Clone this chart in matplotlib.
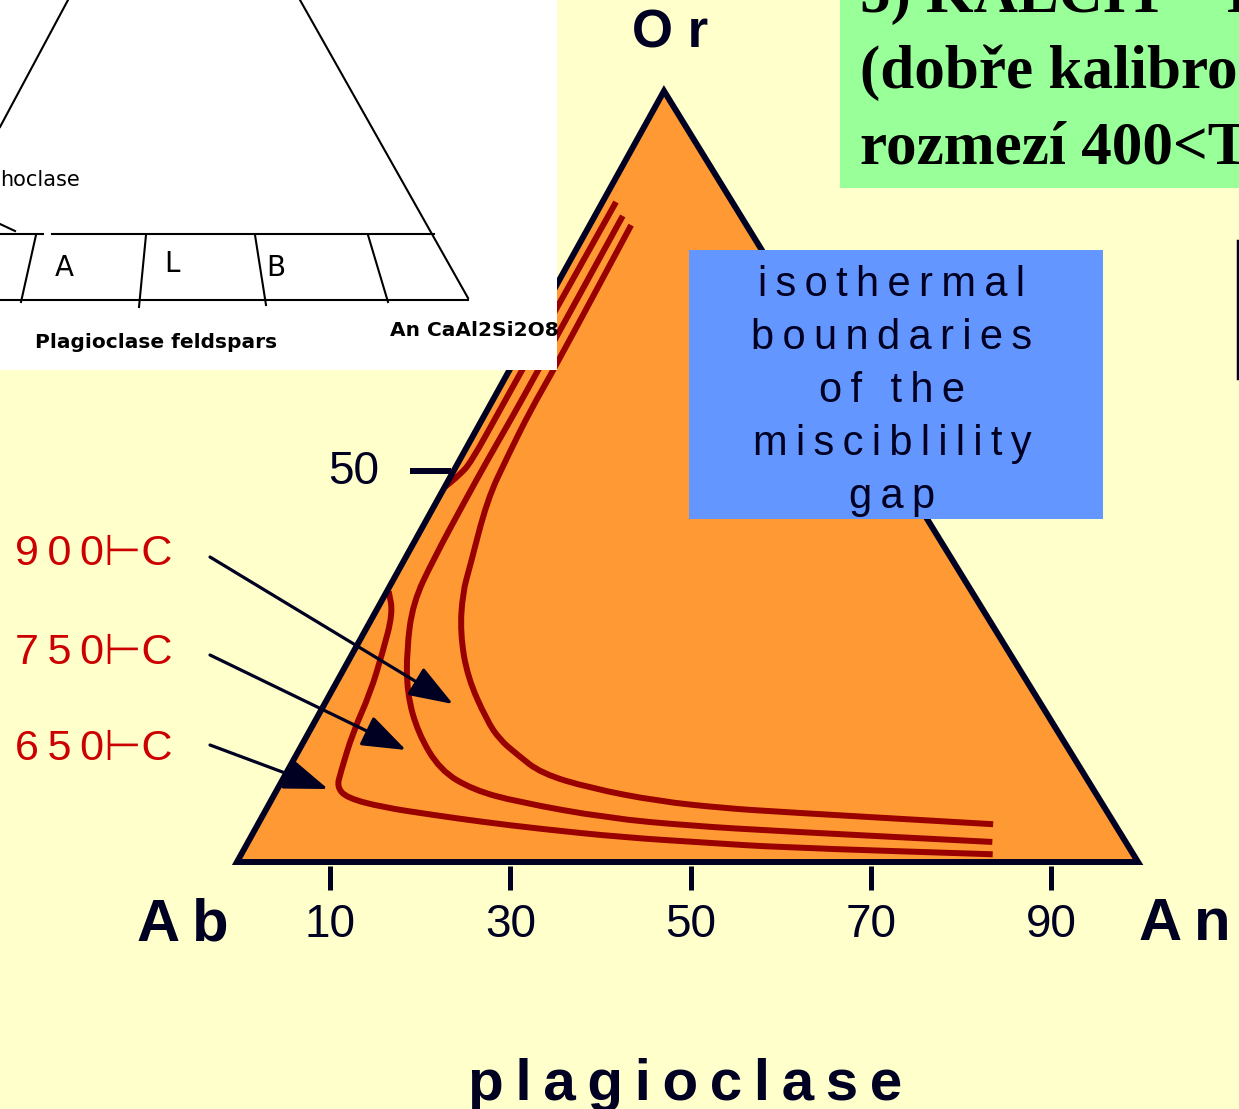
import numpy as np
import matplotlib.pyplot as plt
from matplotlib.patches import Polygon, Rectangle, PathPatch
from matplotlib.path import Path

# pixel corners of the ternary diagram: Ab (left), An (right), Or (top)
AB = np.array([237.0, 862.0])
AN = np.array([1138.0, 862.0])
OR = np.array([664.0, 91.0])

NAVY = '#000022'
RED = '#990000'
SANS = ['Liberation Sans', 'DejaVu Sans']

# base ticks (mol % An) and the single Or tick
base_ticks = [10, 30, 50, 70, 90]
or_tick = 50

# isotherms as (An %, Or %)
an_650_top = [1.5, 1.4, 1.4, 1.4, 0.9, 0.0]
or_650_top = [85.6, 63.9, 58.7, 51.8, 50.2, 48.6]
an_650 = [0.2, 2.0, 3.3, 4.4, 4.9, 6.0, 6.5, 8.3, 12.8, 18.9, 24.8, 31.6, 41.3, 51.0, 59.3, 83.4]
or_650 = [35.1, 32.3, 27.1, 21.9, 16.8, 11.6, 9.7, 8.3, 7.1, 6.1, 5.2, 4.3, 3.2, 2.5, 1.9, 1.0]
an_750 = [3.1, 3.2, 3.2, 3.1, 3.1, 3.2, 3.6, 5.8, 8.5, 12.1, 16.9, 21.8, 27.4, 38.4, 48.1, 58.4, 82.6]
or_750 = [83.8, 63.9, 57.8, 52.2, 47.0, 39.2, 33.6, 27.5, 21.9, 16.8, 11.9, 9.35, 7.8, 5.7, 4.7, 4.0, 2.6]
an_900 = [4.6, 4.9, 4.8, 5.1, 5.5, 7.7, 8.5, 10.7, 14.2, 19.0, 21.6, 24.4, 28.3, 34.6, 42.9, 50.6, 57.2, 81.6]
or_900 = [82.6, 63.9, 58.7, 52.6, 47.0, 38.3, 34.9, 29.7, 24.0, 18.4, 15.9, 14.0, 11.5, 9.6, 7.9, 7.0, 6.5, 4.9]

temp_labels = ['900', '750', '650']
box_lines = ['isothermal', 'boundaries', 'of the', 'misciblility', 'gap']
green_lines = ['5) KALCIT \u2013 D', '(dob\u0159e kalibro', 'rozmez\u00ed 400<T']


def tern(an, orr):
    an = np.asarray(an, dtype=float) / 100.0
    orr = np.asarray(orr, dtype=float) / 100.0
    x = AB[0] + an * (AN[0] - AB[0]) + orr * (OR[0] - AB[0])
    y = AB[1] + an * (AN[1] - AB[1]) + orr * (OR[1] - AB[1])
    return x, y


def smooth_path(x, y):
    # quadratic b-spline through the read points (points act as control points)
    p = np.column_stack([x, y])
    mids = (p[:-1] + p[1:]) / 2
    verts = [p[0], mids[0]]
    codes = [Path.MOVETO, Path.LINETO]
    for i in range(1, len(p) - 1):
        verts += [p[i], mids[i]]
        codes += [Path.CURVE3, Path.CURVE3]
    verts.append(p[-1])
    codes.append(Path.LINETO)
    return Path(verts, codes)


def spaced(s):
    return '\u2009'.join(s)


fig = plt.figure(figsize=(12.39, 11.09), dpi=100)
fig.patch.set_facecolor('#FFFFCC')
ax = fig.add_axes([0, 0, 1, 1])
ax.set_xlim(0, 1239)
ax.set_ylim(1109, 0)
ax.axis('off')

# triangle
ax.add_patch(Polygon([AB, AN, OR], closed=True, fc='#FF9933', ec='none', zorder=1))
ax.add_patch(Polygon([AB, AN, OR], closed=True, fill=False, ec=NAVY, lw=4.3,
                     joinstyle='miter', zorder=3))

# isotherms
for a, o in [(an_650_top, or_650_top), (an_650, or_650), (an_750, or_750), (an_900, or_900)]:
    x, y = tern(a, o)
    ax.add_patch(PathPatch(smooth_path(x, y), fill=False, ec=RED, lw=4.3,
                           joinstyle='round', capstyle='butt', zorder=2))

# base ticks
for t in base_ticks:
    x, y = tern(t, 0)
    ax.plot([x + 3, x + 3], [y + 4, y + 28], color=NAVY, lw=3.6, solid_capstyle='butt', zorder=3)
    ax.text(x + 3, 925, str(t), fontsize=33, family=SANS, color=NAVY, ha='center', va='center')

x, y = tern(0, or_tick)
ax.plot([x - 41, x], [y - 6, y - 6], color=NAVY, lw=4.3, solid_capstyle='butt', zorder=3)
ax.text(x - 97, y - 5, str(or_tick), fontsize=33, family=SANS, color=NAVY, ha='center', va='center')

# corner labels
ax.text(183, 925, spaced('Ab'), fontsize=43, fontweight='bold', family=SANS, color=NAVY,
        ha='center', va='center')
ax.text(1185, 925, spaced('An'), fontsize=43, fontweight='bold', family=SANS, color=NAVY,
        ha='center', va='center')
ax.text(670, 33, 'O r', fontsize=38, fontweight='bold', family=SANS, color=NAVY,
        ha='center', va='center')
ax.text(685, 1100, spaced('plagioclase'), fontsize=42, fontweight='bold', family=SANS,
        color=NAVY, ha='center', va='baseline')

# temperature labels with arrows
label_y = [554, 653, 749]
arrow_tips = [(453, 704), (406, 750), (328, 789)]
arrow_tails = [(210, 557), (210, 655), (210, 745)]
for t, ly, tail, tip in zip(temp_labels, label_y, arrow_tails, arrow_tips):
    ax.text(15, ly, spaced(t) + '\u22a2C', fontsize=31, family=SANS, color='#CC0000',
            ha='left', va='center')
    ax.annotate('', xy=tip, xytext=tail,
                arrowprops=dict(arrowstyle='-|>,head_length=1.05,head_width=0.38',
                                mutation_scale=26, color=NAVY, lw=2.3,
                                shrinkA=0, shrinkB=0), zorder=4)

# blue note box
ax.add_patch(Rectangle((689, 250), 414, 269, fc='#6496FF', ec='none', zorder=5))
for i, line in enumerate(box_lines):
    ax.text(892, 296 + 53 * i, spaced(line), fontsize=30, family=SANS, color=NAVY,
            ha='center', va='baseline', zorder=6)

# green heading box (cut by the slide edge)
ax.add_patch(Rectangle((840, 0), 420, 188, fc='#99FF99', ec='none', zorder=5))
for i, line in enumerate(green_lines):
    ax.text(860, 12 + 76 * i, line, fontsize=44, fontweight='bold', family='Liberation Serif',
            color='black', ha='left', va='baseline', zorder=6)

ax.plot([1238, 1238], [241, 378], color=NAVY, lw=2.5, zorder=6)

# pasted inset of the feldspar triangle
inset = Rectangle((0, 0), 557, 370, fc='white', ec='none', zorder=10)
ax.add_patch(inset)
k = dict(color='black', lw=1.5, zorder=11)
ax.plot([68, 0], [0, 127], **k)
ax.plot([300, 468], [0, 298], **k)
ax.plot([0, 43], [234, 234], **k)
ax.plot([52, 434], [234, 234], **k)
ax.plot([0, 468], [300, 300], **k)
ax.plot([36, 21], [235, 302], **k)
ax.plot([146, 139], [235, 307], **k)
ax.plot([255, 266], [235, 305], **k)
ax.plot([368, 388], [235, 302], **k)
ax.plot([0, 15], [224, 231], **k)
ax.text(0, 180, 'hoclase', fontsize=15, family='DejaVu Sans Condensed', color='black',
        ha='left', va='center', zorder=11)
for s, sx, sy in [('A', 64, 268), ('L', 172, 264), ('B', 276, 268)]:
    ax.text(sx, sy, s, fontsize=20, family='DejaVu Sans Condensed', color='black',
            ha='center', va='center', zorder=11)
ax.text(35, 343, 'Plagioclase feldspars', fontsize=14.5, fontweight='bold', family='DejaVu Sans',
        color='black', ha='left', va='center', zorder=11)
t = ax.text(390, 330, 'An CaAl2Si2O8', fontsize=14.5, fontweight='bold', family='DejaVu Sans',
            color='black', ha='left', va='center', zorder=11)
t.set_clip_path(inset)

fig.savefig('out.png', dpi=100, facecolor=fig.get_facecolor())
